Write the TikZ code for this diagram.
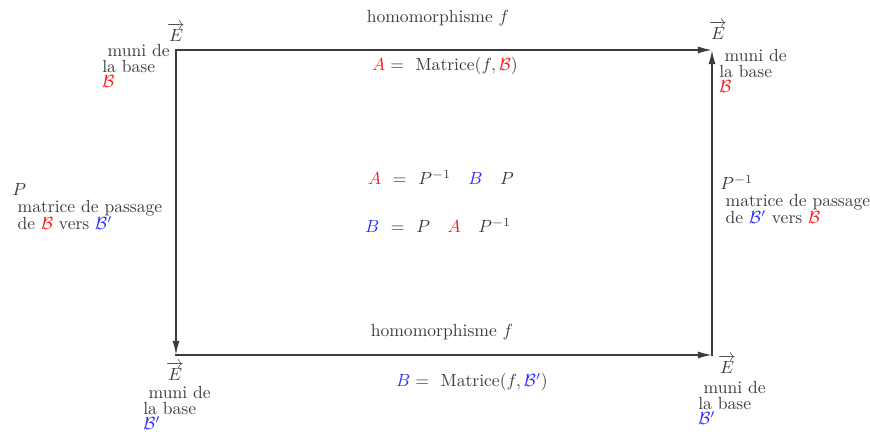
\documentclass[tikz,border=0pt]{standalone}
\usepackage{amsmath,amssymb}
\usepackage{xcolor}
\usepackage{tikz}
\usetikzlibrary{arrows.meta,positioning}
\definecolor{chgGray}{RGB}{60,60,60}
\definecolor{chgRed}{RGB}{255,25,25}
\definecolor{chgBlue}{RGB}{45,45,255}
\newcommand{\baseB}{\textcolor{chgRed}{$\mathcal{B}$}}
\newcommand{\baseBp}{\textcolor{chgBlue}{$\mathcal{B}'$}}
\newcommand{\vecE}{$\overrightarrow{E}$}

\begin{document}
\begin{tikzpicture}[x=0.02cm,y=-0.02cm,
    txt/.style={text=chgGray, inner sep=0pt},
    muni/.style={txt, align=left, anchor=base west, font=\fontsize{10}{8.9}\selectfont},
    passage/.style={txt, align=left, anchor=base west, font=\fontsize{10}{9.8}\selectfont},
    fleche/.style={chgGray, line width=0.9pt, line cap=rect, -{Latex[length=8pt,width=4pt]}}]
    \useasboundingbox (0,0) rectangle (870,432);

    % the four copies of E
    \coordinate (hg) at (176,50);
    \coordinate (hd) at (712,50);
    \coordinate (bg) at (176,355);
    \coordinate (bd) at (712,355);

    \draw[fleche] (hg) -- (hd);
    \draw[fleche] (hg) -- (bg);
    \draw[fleche] (bg) -- (bd);
    \draw[fleche] (bd) -- (hd);

    % E labels
    \node[txt, anchor=base] (Ehg) at (176,42) {\vecE};
    \node[txt, anchor=base] (Ehd) at (718,40) {\vecE};
    \node[txt, anchor=base] (Ebg) at (175,381) {\vecE};
    \node[txt, anchor=base] (Ebd) at (727,374) {\vecE};

    % bases (anchor = last line)
    \node[muni] (muniHg) at (102,88) {\hspace{3pt}muni de\\la base\\\baseB};
    \node[muni] (muniHd) at (719,93) {\hspace{3pt}muni de\\la base\\\baseB};
    \node[muni] (muniBg) at (143,430) {\hspace{3pt}muni de\\la base\\\baseBp};
    \node[muni] (muniBd) at (698,425) {\hspace{3pt}muni de\\la base\\\baseBp};

    % change of basis
    \node[passage] (passG) at (12,230)
        {$P$\\\hspace{3pt}matrice de passage\\\hspace{3pt}de \baseB{} vers \baseBp};
    \node[passage] (passD) at (720,224)
        {$P^{-1}$\\\hspace{3pt}matrice de passage\\\hspace{3pt}de \baseBp{} vers \baseB};

    % homomorphisms
    \node[txt, anchor=base] (homH) at (438,23) {homomorphisme $f$};
    \node[txt, anchor=base] (matA) at (445,71)
        {\textcolor{chgRed}{$A$}$\;=$\ \ Matrice$(f,\textcolor{chgRed}{\mathcal{B}})$};
    \node[txt, anchor=base] (homB) at (442,337) {homomorphisme $f$};
    \node[txt, anchor=base] (matB) at (472,387)
        {\textcolor{chgBlue}{$B$}$\;=$\ \ Matrice$(f,\textcolor{chgBlue}{\mathcal{B}'})$};

    % formulas
    \node[txt, anchor=base] (formA) at (441,185)
        {\textcolor{chgRed}{$A$}\ \ $=$\ \ $P^{-1}$\quad\textcolor{chgBlue}{$B$}\quad$P$};
    \node[txt, anchor=base] (formB) at (438,233)
        {\textcolor{chgBlue}{$B$}\ \ $=$\ \ $P$\quad\textcolor{chgRed}{$A$}\quad$P^{-1}$};
\end{tikzpicture}
\end{document}
